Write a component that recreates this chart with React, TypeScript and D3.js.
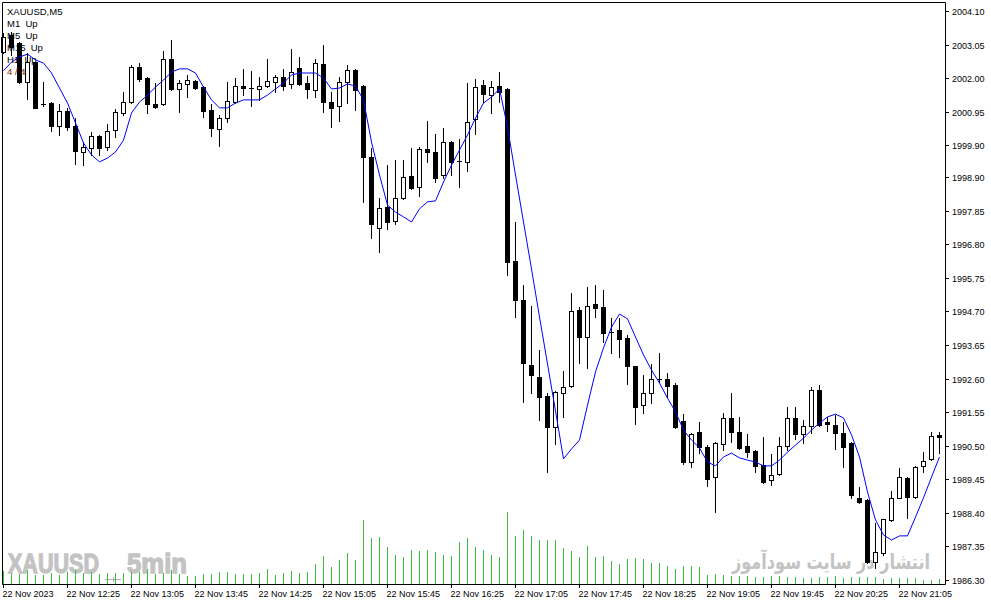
import * as d3 from "d3";

// XAUUSD M5, 22 Nov 2023, one value per 5-minute bar (118 bars, 11:45 .. 21:30)
const open = [
  2002.82, 2003.35, 2003.10, 2001.88, 2002.50, 2001.19, 2001.22, 2000.50, 2000.97, 2000.50,
  1999.69, 1999.81, 2000.19, 1999.85, 2000.38, 2000.91, 2001.25, 2002.35, 2002.00, 2001.19,
  2001.19, 2002.60, 2001.66, 2001.82, 2001.91, 2001.72, 2001.00, 2000.41, 2000.75, 2001.25,
  2001.75, 2001.70, 2001.66, 2001.75, 2001.88, 2002.04, 2001.82, 2002.32, 2001.85, 2001.63,
  2002.44, 2001.25, 2001.13, 2001.88, 2002.25, 2001.75, 1999.53, 1997.31, 1997.97, 1997.53,
  1998.25, 1998.94, 1998.59, 1999.78, 1999.69, 1998.97, 2000.00, 1999.38, 1999.38, 2000.72,
  2001.79, 2001.47, 2001.75, 2001.66, 1996.28, 1995.06, 1993.03, 1992.65, 1992.06, 1991.09,
  1992.15, 1992.37, 1994.75, 1993.90, 1994.93, 1994.84, 1994.06, 1994.12, 1993.87, 1992.99,
  1991.77, 1992.15, 1992.59, 1992.59, 1992.40, 1991.27, 1989.99, 1990.93, 1990.46, 1989.52,
  1990.55, 1991.37, 1990.93, 1990.49, 1990.34, 1989.90, 1989.43, 1989.62, 1990.49, 1991.37,
  1990.87, 1991.12, 1992.24, 1991.24, 1991.15, 1990.90, 1990.59, 1988.87, 1988.80, 1986.86,
  1987.15, 1988.18, 1988.87, 1989.49, 1988.90, 1989.87, 1990.09, 1990.84,
];
const high = [
  2003.41, 2003.44, 2003.12, 2002.79, 2002.52, 2001.88, 2001.24, 2001.19, 2001.07, 2000.75,
  2000.00, 2000.31, 2000.22, 2000.57, 2001.03, 2001.57, 2002.41, 2002.47, 2002.02, 2001.85,
  2002.85, 2003.19, 2001.94, 2002.10, 2001.93, 2001.74, 2001.19, 2000.85, 2001.88, 2002.00,
  2002.29, 2002.22, 2002.04, 2002.60, 2002.10, 2002.29, 2002.91, 2002.66, 2002.07, 2002.60,
  2003.04, 2001.57, 2002.04, 2002.41, 2002.27, 2001.77, 1999.81, 1998.25, 1999.28, 1999.44,
  1999.44, 1999.81, 1999.85, 2000.66, 2000.25, 2000.44, 2000.02, 2000.10, 2001.85, 2001.97,
  2001.94, 2001.91, 2002.19, 2001.68, 1997.50, 1995.53, 1994.87, 1993.50, 1992.15, 1992.21,
  1992.84, 1995.28, 1994.84, 1995.47, 1995.53, 1995.37, 1994.50, 1994.50, 1993.96, 1993.01,
  1992.71, 1993.06, 1993.40, 1992.78, 1992.46, 1991.49, 1990.89, 1991.24, 1990.52, 1990.62,
  1991.52, 1992.15, 1991.40, 1990.87, 1990.36, 1990.77, 1990.24, 1990.77, 1991.71, 1991.71,
  1991.31, 1992.34, 1992.40, 1991.40, 1991.46, 1991.24, 1990.61, 1989.21, 1988.82, 1988.08,
  1988.22, 1989.08, 1989.80, 1989.51, 1989.86, 1990.30, 1990.93, 1990.93,
];
const low = [
  2002.79, 2002.72, 2001.85, 2001.35, 2001.05, 2001.13, 2000.35, 2000.22, 2000.38, 1999.31,
  1999.28, 1999.60, 1999.60, 1999.75, 2000.16, 2000.85, 2001.22, 2001.91, 2000.91, 2001.08,
  2001.16, 2001.63, 2000.94, 2001.41, 2001.67, 2000.78, 2000.19, 1999.88, 2000.63, 2001.22,
  2001.47, 2001.13, 2001.32, 2001.72, 2001.57, 2001.63, 2001.69, 2001.80, 2001.38, 2001.41,
  2000.94, 2000.47, 2000.66, 2001.22, 2001.00, 1998.13, 1997.00, 1996.56, 1997.28, 1997.44,
  1998.23, 1998.54, 1998.31, 1999.38, 1998.75, 1998.88, 1998.97, 1998.59, 1999.10, 2000.25,
  2001.25, 2000.91, 2001.25, 1995.84, 1994.53, 1991.87, 1992.15, 1991.31, 1989.68, 1990.55,
  1991.40, 1992.35, 1993.09, 1992.93, 1994.53, 1993.75, 1993.40, 1993.28, 1992.43, 1991.18,
  1991.52, 1991.84, 1992.49, 1992.03, 1991.07, 1989.93, 1989.84, 1990.27, 1989.24, 1988.43,
  1990.37, 1990.62, 1990.40, 1990.15, 1989.68, 1989.35, 1989.27, 1989.60, 1990.37, 1990.71,
  1990.59, 1990.90, 1991.13, 1990.96, 1990.40, 1989.84, 1988.87, 1988.71, 1986.84, 1986.68,
  1987.08, 1988.16, 1988.85, 1988.24, 1988.88, 1989.68, 1990.05, 1990.27,
];
const close = [
  2003.29, 2002.97, 2001.88, 2002.50, 2001.07, 2001.17, 2000.50, 2000.97, 2000.47, 1999.72,
  1999.85, 2000.19, 1999.81, 2000.35, 2000.94, 2001.25, 2002.35, 2001.97, 2001.19, 2001.10,
  2002.60, 2001.66, 2001.85, 2001.94, 2001.69, 2000.97, 2000.44, 2000.75, 2001.28, 2001.75,
  2001.69, 2001.70, 2001.75, 2001.91, 2002.04, 2001.75, 2002.19, 2001.82, 2001.66, 2002.47,
  2001.25, 2001.07, 2001.88, 2002.25, 2001.63, 1999.53, 1997.44, 1997.94, 1997.50, 1998.25,
  1998.91, 1998.56, 1999.78, 1999.69, 1998.88, 2000.00, 1999.38, 1999.40, 2000.63, 2001.72,
  2001.50, 2001.72, 2001.57, 1996.25, 1995.06, 1993.09, 1992.71, 1992.03, 1991.09, 1992.18,
  1992.34, 1994.72, 1993.90, 1994.87, 1994.81, 1994.03, 1994.06, 1993.84, 1992.99, 1991.71,
  1992.15, 1992.59, 1992.59, 1992.37, 1991.09, 1989.99, 1990.87, 1990.46, 1989.46, 1990.59,
  1991.37, 1990.93, 1990.43, 1990.30, 1989.87, 1989.37, 1989.59, 1990.49, 1991.37, 1990.87,
  1991.12, 1992.24, 1991.15, 1991.18, 1990.90, 1990.46, 1988.96, 1988.74, 1986.86, 1987.18,
  1988.21, 1988.87, 1989.52, 1988.90, 1989.84, 1990.02, 1990.80, 1990.77,
];
// blue moving average, read per bar
const ma = [
  2002.23, 2002.50, 2002.66, 2002.75, 2002.57, 2002.47, 2002.16, 2001.69, 2001.22, 2000.60,
  1999.97, 1999.60, 1999.38, 1999.50, 1999.69, 2000.06, 2000.91, 2001.25, 2001.47, 2001.72,
  2001.94, 2002.19, 2002.29, 2002.29, 2002.16, 2001.72, 2001.32, 2001.07, 2001.07, 2001.22,
  2001.32, 2001.32, 2001.32, 2001.47, 2001.66, 2001.85, 2002.10, 2002.16, 2002.16, 2002.16,
  2002.00, 2001.66, 2001.69, 2001.82, 2001.75, 2001.32, 2000.00, 1998.97, 1998.03, 1997.81,
  1997.66, 1997.50, 1997.91, 1998.13, 1998.16, 1998.75, 1999.28, 1999.75, 2000.22, 2000.75,
  2001.22, 2001.41, 2001.66, 2000.47, 1998.97, 1997.50, 1996.03, 1994.53, 1993.06, 1991.59,
  1990.09, 1990.40, 1990.68, 1991.77, 1992.81, 1993.56, 1994.21, 1994.62, 1994.47, 1993.90,
  1993.34, 1992.87, 1992.46, 1991.99, 1991.56, 1990.99, 1990.68, 1990.43, 1989.99, 1989.87,
  1990.15, 1990.27, 1990.12, 1990.05, 1989.99, 1989.87, 1989.87, 1990.05, 1990.30, 1990.52,
  1990.74, 1990.99, 1991.21, 1991.40, 1991.49, 1991.37, 1990.84, 1990.15, 1989.05, 1988.18,
  1987.71, 1987.55, 1987.68, 1987.68, 1988.27, 1988.87, 1989.52, 1990.15,
];
const volume = [
  39, 32, 30, 42, 27, 26, 32, 28, 37, 42, 34, 36, 30, 34, 34, 34, 37, 37, 45, 30,
  34, 42, 30, 24, 24, 30, 30, 36, 36, 30, 30, 30, 34, 45, 27, 34, 39, 34, 36, 60,
  84, 51, 72, 93, 72, 192, 138, 141, 111, 87, 81, 102, 99, 102, 96, 87, 84, 126, 138, 111,
  102, 87, 80, 216, 144, 162, 144, 132, 132, 132, 108, 99, 81, 114, 81, 84, 69, 60, 75, 78,
  75, 63, 63, 54, 45, 54, 54, 51, 27, 30, 27, 24, 24, 24, 21, 21, 24, 24, 21, 21,
  18, 18, 21, 21, 24, 18, 21, 21, 21, 21, 15, 18, 18, 18, 18, 12, 12, 15,
];

const priceTicks = [
  "2004.10", "2003.05", "2002.00", "2000.95", "1999.90", "1998.90", "1997.85", "1996.80", "1995.75",
  "1994.70", "1993.65", "1992.60", "1991.55", "1990.50", "1989.45", "1988.40", "1987.35", "1986.30",
];
const timeTickBars = [0, 8, 16, 24, 32, 40, 48, 56, 64, 72, 80, 88, 96, 104, 112];
const timeTickLabels = [
  "22 Nov 2023", "22 Nov 12:25", "22 Nov 13:05", "22 Nov 13:45", "22 Nov 14:25",
  "22 Nov 15:05", "22 Nov 15:45", "22 Nov 16:25", "22 Nov 17:05", "22 Nov 17:45",
  "22 Nov 18:25", "22 Nov 19:05", "22 Nov 19:45", "22 Nov 20:25", "22 Nov 21:05",
];
const legendLines = ["XAUUSD,M5", "M1  Up", "M5  Up", "M15  Up", "H1  Up", "4 / 4"];

const W = 991;
const H = 605;
const axisX = 945;
const axisY = 584;
const font = "'Liberation Sans', Arial, sans-serif";

export default function App() {
  const x = d3.scaleLinear().domain([0, open.length - 1]).range([3.5, 3.5 + 8 * (open.length - 1)]);
  const y = d3.scaleLinear().domain([1986.3, 2004.1]).range([580, 11]);
  const yVol = d3.scaleLinear().domain([0, 300]).range([axisY, axisY - 100]);

  const maLine = d3.line<number>()
    .x((_, i) => x(i))
    .y(d => y(d));

  return (
    <svg
      width={W}
      height={H}
      style={{ position: "absolute", left: 0, top: 0, background: "#fff" }}
      fontFamily={font}
    >
      <rect x={0} y={0} width={W} height={H} fill="#fff" />

      {/* watermarks */}
      <g fill="#c3c3c3" stroke="#c3c3c3" strokeWidth={1.3} fontSize={28} fontWeight="bold">
        <text x={8} y={573} textLength={91} lengthAdjust="spacingAndGlyphs">XAUUSD</text>
        <text x={127} y={573} textLength={60} lengthAdjust="spacingAndGlyphs">5min</text>
      </g>
      <line x1={105} x2={121} y1={579.5} y2={579.5} stroke="#b0b0b0" />
      <line x1={113.5} x2={113.5} y1={577} y2={582} stroke="#b0b0b0" />
      <text
        x={831} y={569} fontSize={21} fontWeight="bold" fill="#c3c3c3"
        fontFamily="'DejaVu Sans', 'Noto Sans', sans-serif"
        textAnchor="middle" direction="rtl"
        textLength={198} lengthAdjust="spacingAndGlyphs"
      >انتشار در سایت سودآموز</text>

      {/* volumes */}
      {volume.map((v, i) => (
        <line
          key={`v${i}`}
          x1={x(i)} x2={x(i)}
          y1={axisY} y2={Math.round(yVol(v))}
          stroke="#3dbb3d" strokeWidth={1}
        />
      ))}

      {/* candles */}
      {open.map((o, i) => {
        const c = close[i];
        const cx = x(i);
        const top = Math.round(y(Math.max(o, c)));
        const bot = Math.round(y(Math.min(o, c)));
        const hy = Math.round(y(high[i]));
        const ly = Math.round(y(low[i]));
        const bull = c >= o;
        return (
          <g key={`c${i}`}>
            <line x1={cx} x2={cx} y1={hy} y2={ly + 1} stroke="#000" />
            {bot - top <= 1 ? (
              <line x1={cx - 2.5} x2={cx + 2.5} y1={top + 0.5} y2={top + 0.5} stroke="#000" />
            ) : bull ? (
              <rect x={cx - 2} y={top + 0.5} width={4} height={bot - top} fill="#fff" stroke="#000" />
            ) : (
              <rect x={cx - 2.5} y={top} width={5} height={bot - top + 1} fill="#000" />
            )}
          </g>
        );
      })}

      {/* moving average */}
      <path d={maLine(ma) ?? ""} fill="none" stroke="#0000ff" strokeWidth={1} />

      {/* legend */}
      {legendLines.map((t, i) => (
        <text
          key={`l${i}`}
          x={7} y={15 + i * 12}
          fontSize={9.5}
          fill={i === legendLines.length - 1 ? "#8b2500" : "#000"}
          style={{ whiteSpace: "pre" }}
        >{t}</text>
      ))}

      {/* frame */}
      <line x1={2.5} x2={axisX + 0.5} y1={2.5} y2={2.5} stroke="#000" />
      <line x1={2.5} x2={2.5} y1={2.5} y2={axisY + 0.5} stroke="#000" />
      <line x1={axisX + 0.5} x2={axisX + 0.5} y1={2.5} y2={axisY + 0.5} stroke="#000" />
      <line x1={2.5} x2={axisX + 0.5} y1={axisY + 0.5} y2={axisY + 0.5} stroke="#000" />

      {/* price axis */}
      {priceTicks.map(t => {
        const ty = Math.round(y(+t)) + 0.5;
        return (
          <g key={`p${t}`}>
            <line x1={axisX} x2={axisX + 4} y1={ty} y2={ty} stroke="#000" />
            <text x={952} y={ty} dy="0.35em" fontSize={9} fill="#000">{t}</text>
          </g>
        );
      })}

      {/* time axis */}
      {timeTickBars.map((b, i) => (
        <g key={`t${b}`}>
          <line x1={x(b)} x2={x(b)} y1={axisY} y2={axisY + 4} stroke="#000" />
          <text x={x(b) - 1} y={597} fontSize={9} fill="#000">{timeTickLabels[i]}</text>
        </g>
      ))}
    </svg>
  );
}
